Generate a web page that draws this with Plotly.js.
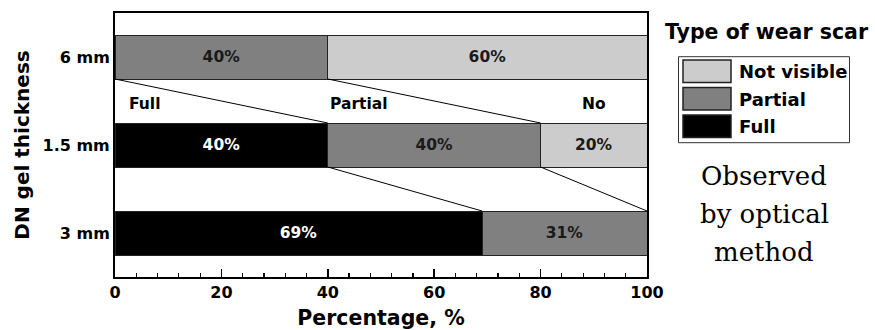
<!DOCTYPE html>
<html><head><meta charset="utf-8">
<script src="https://cdn.plot.ly/plotly-3.0.1.min.js"></script>
<style>html,body{margin:0;padding:0;background:#fff}#chart{width:875px;height:330px}</style>
</head><body><div id="chart"></div>
<script>
// Data (top level)
const categories = ['6 mm', '1.5 mm', '3 mm'];
const catPos = [2, 1, 0];
const fullPct = [0, 40, 69];
const partialPct = [40, 40, 31];
const notVisiblePct = [60, 20, 0];
const seriesNames = ['Full', 'Partial', 'Not visible'];
const seriesColors = ['#000000', '#808080', '#cccccc'];
const textColors = ['#ffffff', '#1a1a1a', '#1a1a1a'];
const xTicks = [0, 20, 40, 60, 80, 100];
const gapLabels = ['Full', 'Partial', 'No'];

const SANS = 'DejaVu Sans, sans-serif';
const series = [fullPct, partialPct, notVisiblePct];
const traces = series.map((vals, i) => ({
  type: 'bar', orientation: 'h', name: seriesNames[i],
  y: catPos, x: vals.map(v => v > 0 ? v : null),
  width: 0.5,
  marker: {color: seriesColors[i], line: {color: '#222', width: 1}},
  text: vals.map(v => v > 0 ? v + '%' : ''),
  textposition: 'inside', insidetextanchor: 'middle', textangle: 0,
  textfont: {family: SANS, size: 15.5, color: textColors[i], weight: 'bold'},
  showlegend: false, hoverinfo: 'skip', cliponaxis: false
}));

// connecting lines between cumulative boundaries of adjacent bars
const cum1 = fullPct;
const cum2 = fullPct.map((v, i) => v + partialPct[i]);
for (let k = 0; k < categories.length - 1; k++) {
  [cum1, cum2].forEach(c => {
    traces.push({
      type: 'scatter', mode: 'lines',
      x: [c[k], c[k + 1]], y: [catPos[k] - 0.25, catPos[k + 1] + 0.25],
      line: {color: '#000', width: 1}, showlegend: false, hoverinfo: 'skip'
    });
  });
}

const annotations = [];
// labels between 6 mm and 1.5 mm bars
const gapX = [2.2, 40, 90];
const gapAnchor = ['left', 'left', 'center'];
gapLabels.forEach((t, i) => annotations.push({
  x: gapX[i], y: 1.5, xref: 'x', yref: 'y', text: t, showarrow: false,
  xanchor: gapAnchor[i], yanchor: 'middle', yshift: -3,
  font: {family: SANS, size: 15.5, color: '#000', weight: 'bold'}
}));

// custom legend
const shapes = [];
const P = (px) => (px - 115) / 532;
const Q = (py) => (277 - py) / 264;
shapes.push({type: 'rect', xref: 'paper', yref: 'paper', x0: P(678.5), x1: P(849.5), y0: Q(142.7), y1: Q(56.7),
  line: {color: '#333', width: 1}, fillcolor: 'rgba(0,0,0,0)'});
const legOrder = [2, 1, 0];
const swTop = [60, 87.5, 115];
legOrder.forEach((si, j) => {
  shapes.push({type: 'rect', xref: 'paper', yref: 'paper', x0: P(683), x1: P(731), y0: Q(swTop[j] + 22.5), y1: Q(swTop[j]),
    line: {color: '#222', width: 1.5}, fillcolor: seriesColors[si]});
  annotations.push({xref: 'paper', yref: 'paper', x: P(737), y: Q(swTop[j] + 11.5), text: seriesNames[si],
    showarrow: false, xanchor: 'left', yanchor: 'middle',
    font: {family: SANS, size: 18, color: '#000', weight: 'bold'}});
});
annotations.push({xref: 'paper', yref: 'paper', x: P(767), y: Q(32), text: 'Type of wear scar',
  showarrow: false, xanchor: 'center', yanchor: 'middle',
  font: {family: SANS, size: 20.5, color: '#000', weight: 'bold'}});
const noteLines = ['Observed', 'by optical', 'method'];
const noteY = [176, 214, 252];
noteLines.forEach((t, i) => annotations.push({xref: 'paper', yref: 'paper', x: P(764), y: Q(noteY[i]), text: t,
  showarrow: false, xanchor: 'center', yanchor: 'middle',
  font: {family: 'DejaVu Serif, serif', size: 26, color: '#000'}}));

const layout = {
  width: 875, height: 330,
  margin: {l: 115, r: 228, t: 13, b: 53},
  paper_bgcolor: '#fff', plot_bgcolor: '#fff',
  barmode: 'stack', bargap: 0,
  font: {family: SANS, color: '#000'},
  xaxis: {
    range: [0, 100], tickvals: xTicks, ticktext: xTicks.map(String),
    ticks: 'inside', ticklen: 8, tickwidth: 1.5, tickcolor: '#000',
    minor: {dtick: 4, tick0: 0, ticks: 'inside', ticklen: 4, tickwidth: 1.2, tickcolor: '#000'},
    showline: true, linecolor: '#000', linewidth: 2, mirror: true,
    showgrid: false, zeroline: false,
    tickfont: {family: SANS, size: 16, weight: 'bold'},
    title: {text: 'Percentage, %', font: {family: SANS, size: 20.5, weight: 'bold'}, standoff: 9}
  },
  yaxis: {
    range: [-0.5, 2.5], tickvals: catPos, ticktext: categories,
    ticks: '', showline: true, linecolor: '#000', linewidth: 2, mirror: true,
    showgrid: false, zeroline: false,
    tickfont: {family: SANS, size: 16, weight: 'bold'},
    title: {text: 'DN gel thickness', font: {family: SANS, size: 20, weight: 'bold'}, standoff: 8}
  },
  shapes: shapes, annotations: annotations
};
Plotly.newPlot('chart', traces, layout, {displayModeBar: false, staticPlot: true});
</script>
</body></html>
